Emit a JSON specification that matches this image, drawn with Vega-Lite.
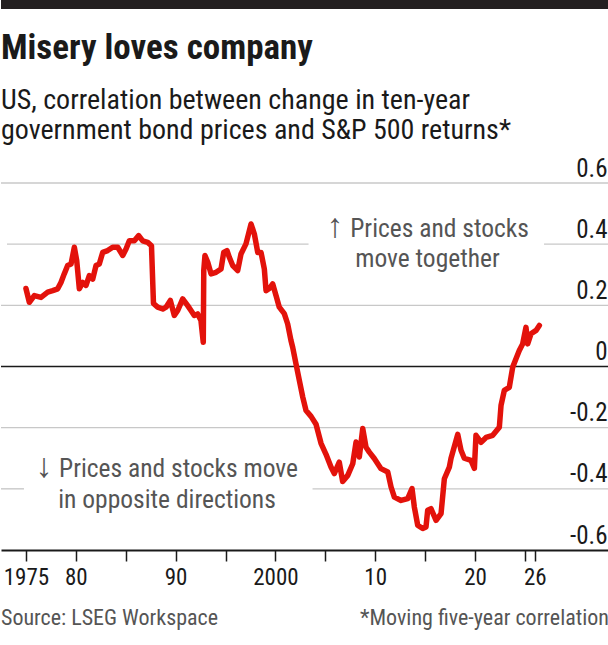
{
  "$schema": "https://vega.github.io/schema/vega-lite/v6.json",
  "padding": 0,
  "spacing": 22,
  "background": "white",
  "config": {
    "view": {"stroke": null},
    "font": "Roboto Condensed, Liberation Sans Narrow, Roboto, sans-serif"
  },
  "datasets": {
    "series": [
      {"year": 1975.0, "value": 0.255}, {"year": 1975.34, "value": 0.21}, {"year": 1975.84, "value": 0.232},
      {"year": 1976.51, "value": 0.226}, {"year": 1977.18, "value": 0.243}, {"year": 1977.68, "value": 0.248},
      {"year": 1978.18, "value": 0.254}, {"year": 1978.51, "value": 0.275}, {"year": 1978.84, "value": 0.303},
      {"year": 1979.18, "value": 0.33}, {"year": 1979.52, "value": 0.335}, {"year": 1979.85, "value": 0.39},
      {"year": 1980.09, "value": 0.346}, {"year": 1980.35, "value": 0.254}, {"year": 1980.69, "value": 0.275},
      {"year": 1981.02, "value": 0.265}, {"year": 1981.35, "value": 0.297}, {"year": 1981.69, "value": 0.286},
      {"year": 1982.02, "value": 0.33}, {"year": 1982.35, "value": 0.335}, {"year": 1982.69, "value": 0.373},
      {"year": 1983.19, "value": 0.379}, {"year": 1983.69, "value": 0.39}, {"year": 1984.2, "value": 0.39},
      {"year": 1984.7, "value": 0.363}, {"year": 1985.03, "value": 0.384}, {"year": 1985.36, "value": 0.411},
      {"year": 1985.86, "value": 0.411}, {"year": 1986.3, "value": 0.428}, {"year": 1986.7, "value": 0.411},
      {"year": 1987.2, "value": 0.406}, {"year": 1987.58, "value": 0.395}, {"year": 1987.78, "value": 0.206},
      {"year": 1988.2, "value": 0.194}, {"year": 1988.71, "value": 0.188}, {"year": 1989.04, "value": 0.194},
      {"year": 1989.47, "value": 0.216}, {"year": 1989.87, "value": 0.167}, {"year": 1990.21, "value": 0.183},
      {"year": 1990.71, "value": 0.221}, {"year": 1991.21, "value": 0.199}, {"year": 1991.54, "value": 0.183},
      {"year": 1991.87, "value": 0.167}, {"year": 1992.21, "value": 0.172}, {"year": 1992.54, "value": 0.15},
      {"year": 1992.77, "value": 0.079}, {"year": 1992.82, "value": 0.314}, {"year": 1992.94, "value": 0.363},
      {"year": 1993.22, "value": 0.341}, {"year": 1993.55, "value": 0.303}, {"year": 1994.05, "value": 0.308},
      {"year": 1994.55, "value": 0.319}, {"year": 1994.82, "value": 0.373}, {"year": 1995.15, "value": 0.379},
      {"year": 1995.38, "value": 0.357}, {"year": 1995.72, "value": 0.33}, {"year": 1996.22, "value": 0.314},
      {"year": 1996.55, "value": 0.368}, {"year": 1997.05, "value": 0.401}, {"year": 1997.56, "value": 0.466},
      {"year": 1997.89, "value": 0.433}, {"year": 1998.23, "value": 0.373}, {"year": 1998.56, "value": 0.373},
      {"year": 1998.89, "value": 0.319}, {"year": 1999.06, "value": 0.248}, {"year": 1999.39, "value": 0.255},
      {"year": 1999.73, "value": 0.27}, {"year": 2000.06, "value": 0.232}, {"year": 2000.39, "value": 0.194},
      {"year": 2000.89, "value": 0.173}, {"year": 2001.23, "value": 0.139}, {"year": 2001.56, "value": 0.085},
      {"year": 2001.73, "value": 0.063}, {"year": 2002.06, "value": 0.009}, {"year": 2002.4, "value": -0.046},
      {"year": 2002.74, "value": -0.1}, {"year": 2003.07, "value": -0.144}, {"year": 2003.57, "value": -0.163},
      {"year": 2004.07, "value": -0.189}, {"year": 2004.57, "value": -0.251}, {"year": 2005.07, "value": -0.287},
      {"year": 2005.57, "value": -0.329}, {"year": 2005.9, "value": -0.35}, {"year": 2006.4, "value": -0.313},
      {"year": 2006.74, "value": -0.376}, {"year": 2007.25, "value": -0.356}, {"year": 2007.75, "value": -0.318},
      {"year": 2008.08, "value": -0.247}, {"year": 2008.41, "value": -0.296}, {"year": 2008.75, "value": -0.203},
      {"year": 2009.08, "value": -0.264}, {"year": 2009.41, "value": -0.28}, {"year": 2009.91, "value": -0.301},
      {"year": 2010.58, "value": -0.334}, {"year": 2011.26, "value": -0.345}, {"year": 2011.59, "value": -0.394},
      {"year": 2011.92, "value": -0.427}, {"year": 2012.59, "value": -0.438}, {"year": 2013.26, "value": -0.432},
      {"year": 2013.69, "value": -0.399}, {"year": 2013.92, "value": -0.459}, {"year": 2014.26, "value": -0.519},
      {"year": 2014.76, "value": -0.53}, {"year": 2015.09, "value": -0.525}, {"year": 2015.26, "value": -0.47},
      {"year": 2015.59, "value": -0.465}, {"year": 2016.1, "value": -0.503}, {"year": 2016.6, "value": -0.481},
      {"year": 2016.93, "value": -0.367}, {"year": 2017.43, "value": -0.329}, {"year": 2017.6, "value": -0.3},
      {"year": 2018.27, "value": -0.222}, {"year": 2018.6, "value": -0.274}, {"year": 2018.93, "value": -0.3},
      {"year": 2019.6, "value": -0.307}, {"year": 2019.94, "value": -0.333}, {"year": 2020.1, "value": -0.225},
      {"year": 2020.61, "value": -0.248}, {"year": 2021.11, "value": -0.232}, {"year": 2021.78, "value": -0.225},
      {"year": 2022.44, "value": -0.199}, {"year": 2022.61, "value": -0.127}, {"year": 2022.94, "value": -0.078},
      {"year": 2023.44, "value": -0.068}, {"year": 2023.78, "value": -0.002}, {"year": 2024.11, "value": 0.025},
      {"year": 2024.44, "value": 0.052}, {"year": 2024.78, "value": 0.074}, {"year": 2025.11, "value": 0.128},
      {"year": 2025.28, "value": 0.074}, {"year": 2025.61, "value": 0.107}, {"year": 2026.12, "value": 0.118},
      {"year": 2026.45, "value": 0.134}
    ],
    "grid": [
      {"value": 0.6, "year": 1972.5, "year2": 2033.43},
      {"value": 0.4, "year": 1973.1, "year2": 2003.32},
      {"value": 0.4, "year": 2026.92, "year2": 2033.43},
      {"value": 0.2, "year": 1972.5, "year2": 2033.43},
      {"value": -0.2, "year": 1972.5, "year2": 2033.43},
      {"value": -0.4, "year": 1972.5, "year2": 1974.8},
      {"value": -0.4, "year": 2003.72, "year2": 2033.43}
    ],
    "notes": [
      {"year": 2016.45, "value": 0.4246, "label": "Prices and stocks"},
      {"year": 2015.24, "value": 0.3266, "label": "move together"},
      {"year": 1990.29, "value": -0.3615, "label": "Prices and stocks move"},
      {"year": 1989.14, "value": -0.4628, "label": "in opposite directions"}
    ],
    "arrows": [
      {"year": 2005.97, "value": 0.4246, "label": "↑"},
      {"year": 1976.81, "value": -0.3615, "label": "↓"}
    ],
    "source": [{"year": 1972.5, "value": -0.846, "label": "Source: LSEG Workspace"}],
    "footnote": [{"year": 2033.43, "value": -0.846, "label": "*Moving five-year correlation"}]
  },
  "vconcat": [
    {
      "width": 608,
      "height": 9,
      "view": {"fill": "#231f20", "stroke": null},
      "data": {"values": [{"band": 1}]},
      "mark": {"type": "rect", "color": "#231f20"}
    },
    {
      "width": 608,
      "height": 367,
      "title": {
        "text": "Misery loves company",
        "subtitle": ["US, correlation between change in ten-year", "government bond prices and S&P 500 returns*"],
        "anchor": "start",
        "frame": "group",
        "fontSize": 35,
        "fontWeight": "bold",
        "color": "#1a1a1a",
        "subtitleFontSize": 28,
        "subtitleColor": "#1a1a1a",
        "subtitleLineHeight": 30,
        "subtitlePadding": 21,
        "offset": 11
      },
      "layer": [
        {
          "data": {"name": "grid"},
          "mark": {"type": "rule", "color": "#c8c8c8", "strokeWidth": 1.4},
          "encoding": {
            "x": {
              "field": "year", "type": "quantitative",
              "scale": {"domain": [1972.5, 2033.43], "nice": false, "zero": false},
              "axis": {
                "title": null,
                "orient": "bottom",
                "values": [1975, 1980, 1985, 1990, 1995, 2000, 2005, 2010, 2015, 2020, 2025, 2026],
                "labelExpr": "datum.value == 1975 ? '1975' : datum.value == 1980 ? '80' : datum.value == 1990 ? '90' : datum.value == 2000 ? '2000' : datum.value == 2010 ? '10' : datum.value == 2020 ? '20' : datum.value == 2026 ? '26' : ''",
                "grid": false,
                "domain": true,
                "domainColor": "#1a1a1a",
                "domainWidth": 2,
                "ticks": true,
                "tickColor": "#1a1a1a",
                "tickWidth": 1.5,
                "tickSize": 11,
                "labelFontSize": 23,
                "labelColor": "#1a1a1a",
                "labelPadding": 5,
                "labelFlush": false,
                "labelOverlap": false,
                "labelBound": false
              }
            },
            "x2": {"field": "year2"},
            "y": {
              "field": "value", "type": "quantitative",
              "scale": {"domain": [-0.6, 0.6], "nice": false, "zero": false},
              "axis": {
                "title": null,
                "orient": "right",
                "values": [-0.6, -0.4, -0.2, 0, 0.2, 0.4, 0.6],
                "labelExpr": "datum.value == 0 ? '0' : (datum.value < 0 ? '-' : '') + format(abs(datum.value), '.1f')",
                "grid": false,
                "domain": false,
                "ticks": false,
                "labelAlign": "right",
                "labelBaseline": "alphabetic",
                "labelOffset": -7,
                "labelPadding": -2,
                "labelFontSize": 25,
                "labelColor": "#1a1a1a",
                "labelFlush": false,
                "labelOverlap": false,
                "labelBound": false
              }
            }
          }
        },
        {
          "data": {"values": [{"zero": 0}]},
          "mark": {"type": "rule", "color": "#1a1a1a", "strokeWidth": 1.5},
          "encoding": {"y": {"datum": 0, "type": "quantitative", "axis": {"title": null}}}
        },
        {
          "data": {"name": "series"},
          "mark": {"type": "line", "color": "#e3120b", "strokeWidth": 5.5, "strokeJoin": "round", "strokeCap": "round"},
          "encoding": {
            "x": {"field": "year", "type": "quantitative", "axis": {"title": null}},
            "y": {"field": "value", "type": "quantitative", "axis": {"title": null}}
          }
        },
        {
          "data": {"name": "notes"},
          "mark": {"type": "text", "align": "center", "baseline": "alphabetic", "fontSize": 25.5, "color": "#555555"},
          "encoding": {
            "x": {"field": "year", "type": "quantitative", "axis": {"title": null}},
            "y": {"field": "value", "type": "quantitative", "axis": {"title": null}},
            "text": {"field": "label"}
          }
        },
        {
          "data": {"name": "arrows"},
          "mark": {"type": "text", "align": "center", "baseline": "alphabetic", "fontSize": 34, "font": "Liberation Sans", "color": "#555555"},
          "encoding": {
            "x": {"field": "year", "type": "quantitative", "axis": {"title": null}},
            "y": {"field": "value", "type": "quantitative", "axis": {"title": null}},
            "text": {"field": "label"}
          }
        },
        {
          "data": {"name": "source"},
          "mark": {"type": "text", "align": "left", "baseline": "alphabetic", "fontSize": 22, "color": "#555555"},
          "encoding": {
            "x": {"field": "year", "type": "quantitative", "axis": {"title": null}},
            "y": {"field": "value", "type": "quantitative", "axis": {"title": null}},
            "text": {"field": "label"}
          }
        },
        {
          "data": {"name": "footnote"},
          "mark": {"type": "text", "align": "right", "baseline": "alphabetic", "fontSize": 22, "color": "#555555"},
          "encoding": {
            "x": {"field": "year", "type": "quantitative", "axis": {"title": null}},
            "y": {"field": "value", "type": "quantitative", "axis": {"title": null}},
            "text": {"field": "label"}
          }
        }
      ]
    }
  ]
}
